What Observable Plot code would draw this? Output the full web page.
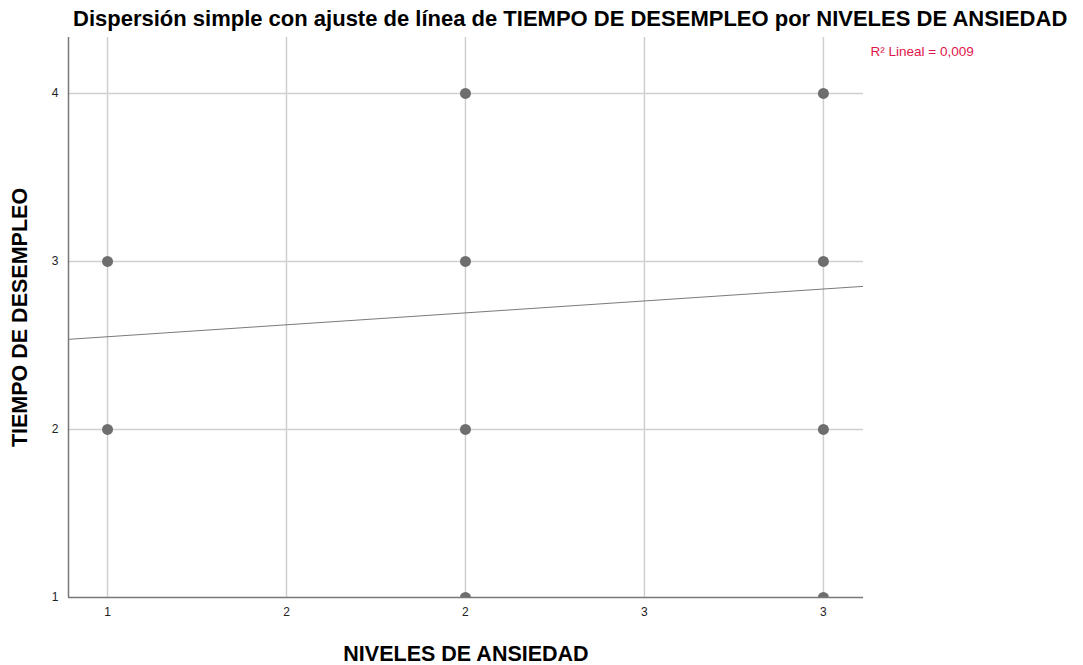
<!DOCTYPE html>
<html>
<head>
<meta charset="utf-8">
<script src="https://cdn.jsdelivr.net/npm/d3@7"></script>
<script src="https://cdn.jsdelivr.net/npm/@observablehq/plot@0.6"></script>
<style>
  body { margin: 0; background: #fff; font-family: "Liberation Sans", Arial, sans-serif; }
  #title { height: 30px; line-height: 38px; padding-left: 73px; font-size: 22px; font-weight: bold; color: #000; white-space: nowrap; }
  svg { display: block; }
</style>
</head>
<body>
<div id="title">Dispersión simple con ajuste de línea de TIEMPO DE DESEMPLEO por NIVELES DE ANSIEDAD</div>
<div id="chart"></div>
<script>
// Data
const niveles = [1, 1, 2, 2, 2, 2, 3, 3, 3, 3];
const tiempo  = [3, 2, 4, 3, 2, 1, 4, 3, 2, 1];
const xTicks = [1, 1.5, 2, 2.5, 3];
const xTickLabels = ["1", "2", "2", "3", "3"];
const yTicks = [1, 2, 3, 4];
const fitIntercept = 2.41;
const fitSlope = 0.142;
const r2Label = "R² Lineal = 0,009";
const xDomain = [0.891, 3.112];
const yDomain = [1, 4.333];

const points = niveles.map((x, i) => ({x, y: tiempo[i]}));
const fitLine = xDomain.map(x => ({x, y: fitIntercept + fitSlope * x}));

const chart = Plot.plot({
  width: 1083,
  height: 635,
  marginTop: 7,
  marginBottom: 68,
  marginLeft: 68,
  marginRight: 220,
  style: {fontFamily: "Liberation Sans, Arial, sans-serif", background: "#fff"},
  x: {domain: xDomain},
  y: {domain: yDomain},
  marks: [
    Plot.ruleX(xTicks, {stroke: "#cfcfcf", strokeWidth: 1.5}),
    Plot.ruleY(yTicks.filter(d => d > yDomain[0]), {stroke: "#cfcfcf", strokeWidth: 1.5}),
    Plot.line(fitLine, {x: "x", y: "y", stroke: "#7a7a7a", strokeWidth: 1, clip: true}),
    Plot.dot(points, {x: "x", y: "y", r: 5.5, fill: "#6e6e6e", stroke: "none", clip: true}),
    Plot.ruleX([xDomain[0]], {stroke: "#777", strokeWidth: 1.5}),
    Plot.ruleY([yDomain[0]], {stroke: "#777", strokeWidth: 1.5}),
    Plot.axisX({ticks: xTicks, tickFormat: (d, i) => xTickLabels[xTicks.indexOf(d)], tickSize: 0, tickPadding: 10, fontSize: 12, fill: "#222", label: null}),
    Plot.axisY({ticks: yTicks, tickFormat: d => String(d), tickSize: 0, tickPadding: 10, fontSize: 12, fill: "#222", label: null}),
    Plot.text(["NIVELES DE ANSIEDAD"], {frameAnchor: "bottom", dy: 63, fontSize: 21.5, fontWeight: "bold", fill: "#000", text: d => d}),
    Plot.text(["TIEMPO DE DESEMPLEO"], {frameAnchor: "left", textAnchor: "middle", dx: -48, rotate: -90, fontSize: 21.5, fontWeight: "bold", fill: "#000", text: d => d}),
    Plot.text([r2Label], {frameAnchor: "top-right", dx: 7, dy: 9, textAnchor: "start", fontSize: 13.5, fill: "#e0164a", text: d => d})
  ]
});
document.getElementById("chart").appendChild(chart);
</script>
</body>
</html>
